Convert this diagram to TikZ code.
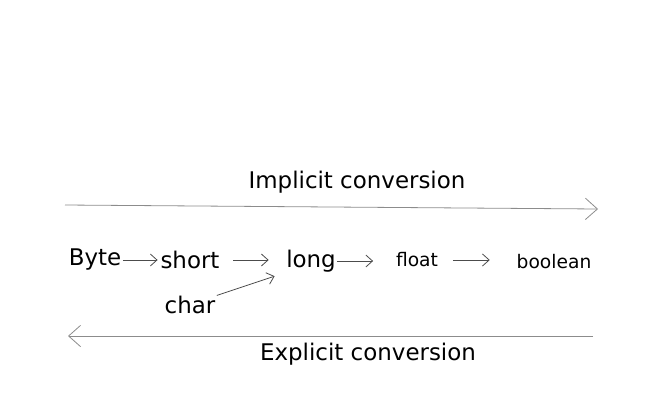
\documentclass[tikz,border=0pt]{standalone}
\usepackage{fontspec}
\setmainfont{DejaVu Sans}
\usetikzlibrary{arrows.meta}

\begin{document}
\begin{tikzpicture}[x=0.75pt,y=-0.75pt,
  word/.style={inner sep=0pt,font=\fontsize{17.2}{20}\selectfont},
  smallword/.style={inner sep=0pt,font=\fontsize{14}{16}\selectfont},
  conv/.style={draw=black!70,line width=0.6pt,-{Straight Barb[length=5pt,width=9pt]}},
  bigline/.style={draw=black!45,line width=0.6pt,-{Straight Barb[length=9pt,width=16pt]}}]
\useasboundingbox (0,0) rectangle (667,400);

\coordinate (il) at (65,205);
\coordinate (ir) at (598,209);
\coordinate (el) at (593,336);
\coordinate (er) at (68,336);

% implicit
\draw[bigline] (il) -- (ir);
\node[word] (impl) at (357,182) {Implicit conversion};

% types
\node[word] (byte) at (95,260) {Byte};
\node[word] (short) at (190,260) {short};
\node[word] (long) at (311,261) {long};
\node[word] (char) at (190,305) {char};
\node[smallword] (float) at (417,260) {float};
\node[smallword] (bool) at (554,262) {boolean};

\draw[conv,shorten <=1pt,shorten >=2pt] (byte.east) -- (byte.east -| short.west);
\draw[conv,shorten <=10pt,shorten >=13pt] (short.east) -- (short.east -| long.west);
\draw[conv,shorten <=1pt,shorten >=9pt] (char.north east) -- (long.south west);
\draw[conv,shorten <=1pt,shorten >=17pt] (long.east) -- (long.east -| float.west);
\draw[conv,shorten <=11pt,shorten >=20pt] (float.east) -- (float.east -| bool.west);

% explicit
\draw[bigline] (el) -- (er);
\node[word] (expl) at (368,354) {Explicit conversion};

\end{tikzpicture}
\end{document}
